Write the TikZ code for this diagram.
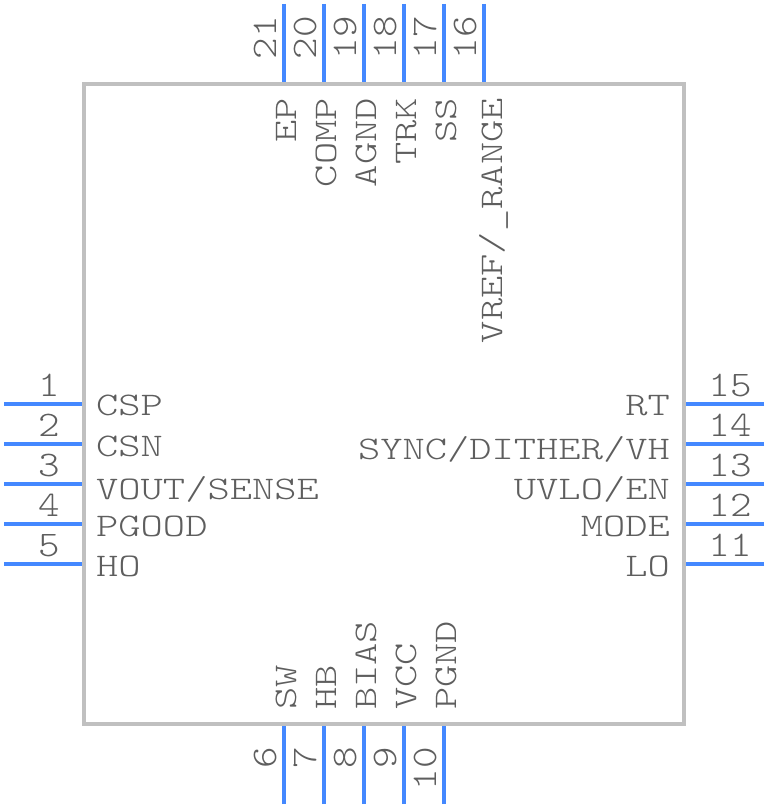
\documentclass[tikz,border=0pt]{standalone}
\usepackage{fontspec}
\setmonofont{Latin Modern Mono Light}[FakeStretch=1.285]
\newfontfamily\pinnumfont{Latin Modern Mono Light}[FakeStretch=1.14]
\usepackage{tikz}
\definecolor{pinblue}{HTML}{4488FF}
\definecolor{bodygray}{HTML}{C0C0C0}
\definecolor{textgray}{HTML}{5E5E5E}
\tikzset{
  pinline/.style={draw=pinblue,line width=4pt},
  pinname/.style={inner sep=0pt,text=textgray,font=\fontsize{33}{33}\selectfont\ttfamily},
  pinnum/.style={inner sep=0pt,text=textgray,font=\fontsize{36}{36}\selectfont\pinnumfont},
}
\begin{document}
\begin{tikzpicture}[x=1pt,y=-1pt]
    \useasboundingbox (0,0) rectangle (768,808);
    \node[shape=rectangle,draw=bodygray,line width=4pt,inner sep=0pt,minimum width=600pt,minimum height=640pt] (body) at (384,404) {};

    % left side
    \coordinate (A1) at (4,404);
    \coordinate (B1) at (82,404);
    \path [pinline] (A1) edge (B1);
    \node[pinnum,anchor=base] (N1) at (49,396) {1};
    \node[pinname,anchor=base west] (L1) at (96,415) {CSP};
    \coordinate (A2) at (4,444);
    \coordinate (B2) at (82,444);
    \path [pinline] (A2) edge (B2);
    \node[pinnum,anchor=base] (N2) at (49,436) {2};
    \node[pinname,anchor=base west] (L2) at (96,456) {CSN};
    \coordinate (A3) at (4,484);
    \coordinate (B3) at (82,484);
    \path [pinline] (A3) edge (B3);
    \node[pinnum,anchor=base] (N3) at (49,476) {3};
    \node[pinname,anchor=base west] (L3) at (96,499) {VOUT/SENSE};
    \coordinate (A4) at (4,524);
    \coordinate (B4) at (82,524);
    \path [pinline] (A4) edge (B4);
    \node[pinnum,anchor=base] (N4) at (49,516) {4};
    \node[pinname,anchor=base west] (L4) at (96,536) {PGOOD};
    \coordinate (A5) at (4,564);
    \coordinate (B5) at (82,564);
    \path [pinline] (A5) edge (B5);
    \node[pinnum,anchor=base] (N5) at (49,556) {5};
    \node[pinname,anchor=base west] (L5) at (96,576) {HO};

    % bottom side
    \coordinate (A6) at (284,804);
    \coordinate (B6) at (284,726);
    \path [pinline] (A6) edge (B6);
    \node[pinnum,anchor=base east,rotate=90] (N6) at (276,747) {6};
    \node[pinname,anchor=base west,rotate=90] (L6) at (296,710) {SW};
    \coordinate (A7) at (324,804);
    \coordinate (B7) at (324,726);
    \path [pinline] (A7) edge (B7);
    \node[pinnum,anchor=base east,rotate=90] (N7) at (316,747) {7};
    \node[pinname,anchor=base west,rotate=90] (L7) at (336,710) {HB};
    \coordinate (A8) at (364,804);
    \coordinate (B8) at (364,726);
    \path [pinline] (A8) edge (B8);
    \node[pinnum,anchor=base east,rotate=90] (N8) at (356,747) {8};
    \node[pinname,anchor=base west,rotate=90] (L8) at (376,710) {BIAS};
    \coordinate (A9) at (404,804);
    \coordinate (B9) at (404,726);
    \path [pinline] (A9) edge (B9);
    \node[pinnum,anchor=base east,rotate=90] (N9) at (396,747) {9};
    \node[pinname,anchor=base west,rotate=90] (L9) at (416,710) {VCC};
    \coordinate (A10) at (444,804);
    \coordinate (B10) at (444,726);
    \path [pinline] (A10) edge (B10);
    \node[pinnum,anchor=base east,rotate=90] (N10) at (436,747) {10};
    \node[pinname,anchor=base west,rotate=90] (L10) at (456,710) {PGND};

    % right side
    \coordinate (A11) at (764,564);
    \coordinate (B11) at (686,564);
    \path [pinline] (A11) edge (B11);
    \node[pinnum,anchor=base] (N11) at (730,556) {11};
    \node[pinname,anchor=base east] (L11) at (670,576) {LO};
    \coordinate (A12) at (764,524);
    \coordinate (B12) at (686,524);
    \path [pinline] (A12) edge (B12);
    \node[pinnum,anchor=base] (N12) at (730,516) {12};
    \node[pinname,anchor=base east] (L12) at (670,536) {MODE};
    \coordinate (A13) at (764,484);
    \coordinate (B13) at (686,484);
    \path [pinline] (A13) edge (B13);
    \node[pinnum,anchor=base] (N13) at (730,476) {13};
    \node[pinname,anchor=base east] (L13) at (670,499) {UVLO/EN};
    \coordinate (A14) at (764,444);
    \coordinate (B14) at (686,444);
    \path [pinline] (A14) edge (B14);
    \node[pinnum,anchor=base] (N14) at (730,436) {14};
    \node[pinname,anchor=base east] (L14) at (670,459) {SYNC/DITHER/VH};
    \coordinate (A15) at (764,404);
    \coordinate (B15) at (686,404);
    \path [pinline] (A15) edge (B15);
    \node[pinnum,anchor=base] (N15) at (730,396) {15};
    \node[pinname,anchor=base east] (L15) at (670,415) {RT};

    % top side
    \coordinate (A16) at (484,4);
    \coordinate (B16) at (484,82);
    \path [pinline] (A16) edge (B16);
    \node[pinnum,anchor=base east,rotate=90] (N16) at (476,16) {16};
    \node[pinname,anchor=base east,rotate=90] (L16) at (502,98) {VREF/\_RANGE};
    \coordinate (A17) at (444,4);
    \coordinate (B17) at (444,82);
    \path [pinline] (A17) edge (B17);
    \node[pinnum,anchor=base east,rotate=90] (N17) at (436,16) {17};
    \node[pinname,anchor=base east,rotate=90] (L17) at (456,98) {SS};
    \coordinate (A18) at (404,4);
    \coordinate (B18) at (404,82);
    \path [pinline] (A18) edge (B18);
    \node[pinnum,anchor=base east,rotate=90] (N18) at (396,16) {18};
    \node[pinname,anchor=base east,rotate=90] (L18) at (416,98) {TRK};
    \coordinate (A19) at (364,4);
    \coordinate (B19) at (364,82);
    \path [pinline] (A19) edge (B19);
    \node[pinnum,anchor=base east,rotate=90] (N19) at (356,16) {19};
    \node[pinname,anchor=base east,rotate=90] (L19) at (376,98) {AGND};
    \coordinate (A20) at (324,4);
    \coordinate (B20) at (324,82);
    \path [pinline] (A20) edge (B20);
    \node[pinnum,anchor=base east,rotate=90] (N20) at (316,16) {20};
    \node[pinname,anchor=base east,rotate=90] (L20) at (336,98) {COMP};
    \coordinate (A21) at (284,4);
    \coordinate (B21) at (284,82);
    \path [pinline] (A21) edge (B21);
    \node[pinnum,anchor=base east,rotate=90] (N21) at (276,16) {21};
    \node[pinname,anchor=base east,rotate=90] (L21) at (296,98) {EP};
\end{tikzpicture}
\end{document}
